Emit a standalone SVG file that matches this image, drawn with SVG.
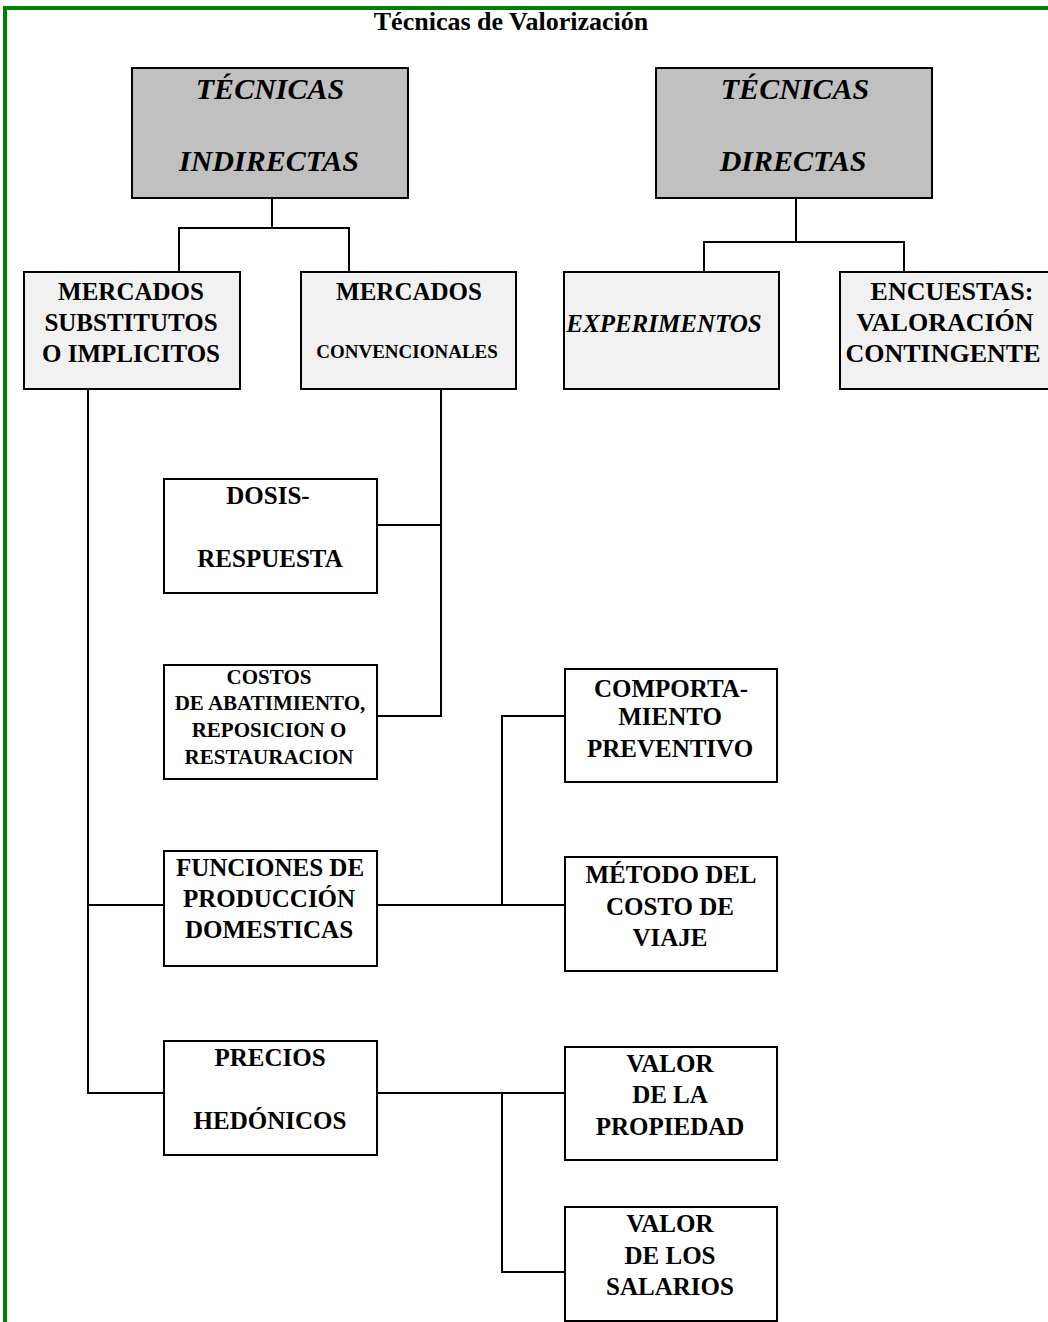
<svg xmlns="http://www.w3.org/2000/svg" width="1048" height="1322" viewBox="0 0 1048 1322">
  <style>
    text { font-family: "Liberation Serif", "Times New Roman", serif; font-weight: bold; fill: #000; text-anchor: middle; }
    .big { font-size: 25px; }
    .wide { font-size: 26px; }
    .bi { font-size: 30px; font-style: italic; }
    .it { font-size: 25px; font-style: italic; }
    .sm { font-size: 19px; }
    .md { font-size: 21px; }
    .box { stroke: #000; stroke-width: 2; }
    .dark { fill: #c0c0c0; }
    .light { fill: #f1f1f1; }
    .white { fill: #ffffff; }
    .conn { fill: none; stroke: #000; stroke-width: 2; }
  </style>

  <rect width="1048" height="1322" fill="#fff"/>

  <!-- page frame -->
  <g id="frame" fill="none" stroke="#008000" stroke-width="4">
    <line x1="5" y1="8" x2="1048" y2="8"/>
    <line x1="5" y1="6" x2="5" y2="1322"/>
  </g>

  <text x="511" y="30" style="font-size:26px">Técnicas de Valorización</text>

  <!-- connectors -->
  <g id="connectors" class="conn">
    <polyline class="conn" points="272,198 272,228"/>
    <polyline class="conn" points="179,272 179,228 349,228 349,272"/>
    <polyline class="conn" points="796,198 796,242"/>
    <polyline class="conn" points="704,272 704,242 904,242 904,272"/>
    <polyline class="conn" points="88,389 88,1093 164,1093"/>
    <line class="conn" x1="88" y1="905" x2="164" y2="905"/>
    <polyline class="conn" points="441,389 441,716 377,716"/>
    <line class="conn" x1="377" y1="525" x2="441" y2="525"/>
    <line class="conn" x1="377" y1="905" x2="565" y2="905"/>
    <polyline class="conn" points="502,905 502,716 565,716"/>
    <line class="conn" x1="377" y1="1093" x2="565" y2="1093"/>
    <polyline class="conn" points="502,1093 502,1272 565,1272"/>
  </g>

  <g id="tecnicas-indirectas">
    <rect class="box dark" x="132" y="68" width="276" height="130"/>
    <text class="bi" x="270" y="99">TÉCNICAS</text>
    <text class="bi" x="269" y="171">INDIRECTAS</text>
  </g>

  <g id="tecnicas-directas">
    <rect class="box dark" x="656" y="68" width="276" height="130"/>
    <text class="bi" x="795" y="99">TÉCNICAS</text>
    <text class="bi" x="793" y="171">DIRECTAS</text>
  </g>

  <g id="mercados-substitutos">
    <rect class="box light" x="24" y="272" width="216" height="117"/>
    <text class="big" x="131" y="300">MERCADOS</text>
    <text class="big" x="131" y="331">SUBSTITUTOS</text>
    <text class="big" x="131" y="362">O IMPLICITOS</text>
  </g>

  <g id="mercados-convencionales">
    <rect class="box light" x="301" y="272" width="215" height="117"/>
    <text class="big" x="409" y="300">MERCADOS</text>
    <text class="sm" x="407" y="358">CONVENCIONALES</text>
  </g>

  <g id="experimentos">
    <rect class="box light" x="564" y="272" width="215" height="117"/>
    <text class="it" x="664" y="332">EXPERIMENTOS</text>
  </g>

  <g id="encuestas">
    <rect class="box light" x="840" y="272" width="216" height="117"/>
    <text class="wide" x="952" y="300">ENCUESTAS:</text>
    <text class="wide" x="945" y="331">VALORACIÓN</text>
    <text class="wide" x="943" y="362">CONTINGENTE</text>
  </g>

  <g id="dosis-respuesta">
    <rect class="box white" x="164" y="479" width="213" height="114"/>
    <text class="big" x="268" y="504">DOSIS-</text>
    <text class="big" x="270" y="567">RESPUESTA</text>
  </g>

  <g id="costos">
    <rect class="box white" x="164" y="665" width="213" height="114"/>
    <text class="md" x="269" y="684">COSTOS</text>
    <text class="md" x="270" y="710">DE ABATIMIENTO,</text>
    <text class="md" x="269" y="737">REPOSICION O</text>
    <text class="md" x="269" y="764">RESTAURACION</text>
  </g>

  <g id="funciones">
    <rect class="box white" x="164" y="851" width="213" height="115"/>
    <text class="big" x="270" y="876">FUNCIONES DE</text>
    <text class="big" x="269" y="907">PRODUCCIÓN</text>
    <text class="big" x="269" y="938">DOMESTICAS</text>
  </g>

  <g id="precios-hedonicos">
    <rect class="box white" x="164" y="1041" width="213" height="114"/>
    <text class="big" x="270" y="1066">PRECIOS</text>
    <text class="big" x="270" y="1129">HEDÓNICOS</text>
  </g>

  <g id="comportamiento">
    <rect class="box white" x="565" y="669" width="212" height="113"/>
    <text class="big" x="671" y="697">COMPORTA-</text>
    <text class="big" x="670" y="725">MIENTO</text>
    <text class="big" x="670" y="757">PREVENTIVO</text>
  </g>

  <g id="metodo-costo-viaje">
    <rect class="box white" x="565" y="857" width="212" height="114"/>
    <text class="big" x="671" y="883">MÉTODO DEL</text>
    <text class="big" x="670" y="915">COSTO DE</text>
    <text class="big" x="670" y="946">VIAJE</text>
  </g>

  <g id="valor-propiedad">
    <rect class="box white" x="565" y="1047" width="212" height="113"/>
    <text class="big" x="670" y="1072">VALOR</text>
    <text class="big" x="670" y="1103">DE LA</text>
    <text class="big" x="670" y="1135">PROPIEDAD</text>
  </g>

  <g id="valor-salarios">
    <rect class="box white" x="565" y="1207" width="212" height="114"/>
    <text class="big" x="670" y="1232">VALOR</text>
    <text class="big" x="670" y="1264">DE LOS</text>
    <text class="big" x="670" y="1295">SALARIOS</text>
  </g>
</svg>
